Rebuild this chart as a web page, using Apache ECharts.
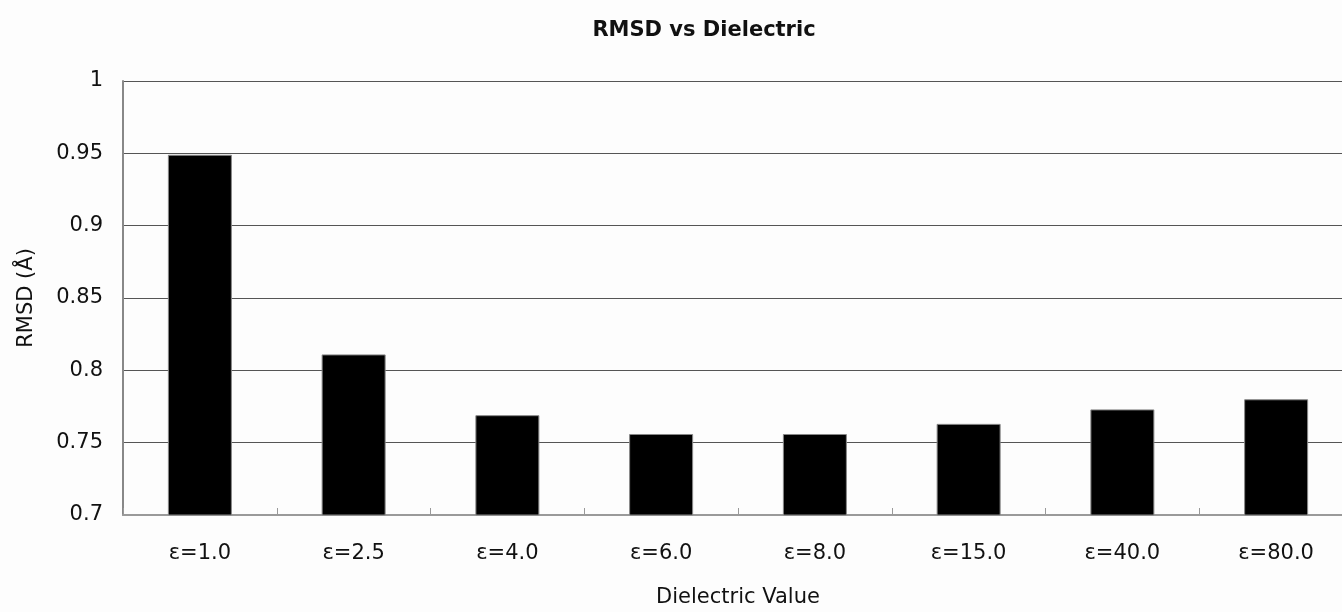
<!DOCTYPE html>
<html>
<head>
<meta charset="utf-8">
<script src="https://cdn.jsdelivr.net/npm/echarts@6/dist/echarts.min.js"></script>
<style>html,body{margin:0;padding:0;background:#fff;}#c{width:1342px;height:612px;}</style>
</head>
<body>
<div id="c"></div>
<script>
const categories = ['ε=1.0','ε=2.5','ε=4.0','ε=6.0','ε=8.0','ε=15.0','ε=40.0','ε=80.0'];
const rmsdValues = [0.949, 0.811, 0.769, 0.756, 0.756, 0.763, 0.773, 0.780];
const yTicks = [0.7, 0.75, 0.8, 0.85, 0.9, 0.95, 1];

const chart = echarts.init(document.getElementById('c'), null, {renderer:'canvas'});
const font = 'DejaVu Sans, Liberation Sans, Arial, sans-serif';
chart.setOption({
  backgroundColor: '#fdfdfd',
  animation: false,
  title: {
    text: 'RMSD vs Dielectric',
    left: 699, top: 15, textAlign: 'center',
    textStyle: {fontFamily: font, fontWeight: 'bold', fontSize: 21, color: '#111'}
  },
  grid: {left: 123, top: 81, height: 434, width: 1230, containLabel: false, outerBoundsMode: 'none'},
  xAxis: {
    type: 'category',
    data: categories,
    name: 'Dielectric Value',
    nameLocation: 'middle',
    nameGap: 72,
    nameTextStyle: {fontFamily: font, fontSize: 21, color: '#111'},
    axisLine: {lineStyle: {color: '#9a9a9a', width: 2}},
    axisTick: {show: true, inside: true, length: 7, lineStyle: {color: '#999'}},
    axisLabel: {fontFamily: font, fontSize: 21, color: '#111', margin: 28}
  },
  yAxis: {
    type: 'value',
    min: 0.7, max: 1, interval: 0.05,
    name: 'RMSD (Å)',
    nameLocation: 'middle',
    nameGap: 86,
    nameTextStyle: {fontFamily: font, fontSize: 21, color: '#111'},
    axisLine: {show: true, lineStyle: {color: '#888', width: 2}},
    axisTick: {show: false},
    axisLabel: {fontFamily: font, fontSize: 21, color: '#111', margin: 20,
      formatter: v => String(parseFloat(v.toFixed(2)))},
    splitLine: {lineStyle: {color: '#555', width: 1.2}}
  },
  series: [{
    type: 'bar',
    data: rmsdValues,
    barWidth: 64,
    itemStyle: {color: '#000', borderColor: '#888', borderWidth: 1}
  }]
});
</script>
</body>
</html>
